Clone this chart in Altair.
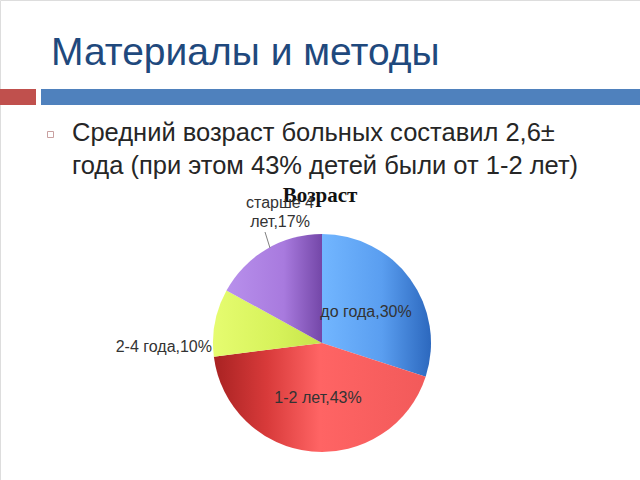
import altair as alt
import pandas as pd

# ---- data ----
categories = ["до года", "1-2 лет", "2-4 года", "старше 4 лет"]
values = [30, 43, 10, 17]
order = [1, 2, 3, 4]

df = pd.DataFrame({"cat": categories, "value": values, "ord": order})

title_text = "Материалы и методы"
line1 = "Средний возраст больных составил 2,6±"
line2 = "года (при этом 43% детей были от 1-2 лет)"
chart_title = "Возраст"

CX, CY, R = 322, 343, 109

def grad(stops):
    return alt.LinearGradient(
        gradient="linear", x1=0, x2=1, y1=0, y2=0,
        stops=[alt.GradientStop(offset=o, color=c) for o, c in stops],
    )

gradients = {
    "до года": grad([(0, "#72B6FF"), (0.55, "#5A9EF0"), (1, "#2C68BE")]),
    "1-2 лет": grad([(0, "#A82222"), (0.25, "#D83A3A"), (0.5, "#FF6464"), (1, "#F25A5A")]),
    "2-4 года": grad([(0, "#E6FC70"), (0.6, "#D6F25A"), (1, "#C6E44A")]),
    "старше 4 лет": grad([(0, "#B890EC"), (0.6, "#A87ADE"), (1, "#7447A8")]),
}

base = alt.Chart(df).transform_stack(
    stack="value", groupby=[], as_=["v0", "v1"],
    sort=[alt.SortField("ord", order="ascending")],
)

theta_scale = alt.Scale(domain=[0, 100])

slices = []
for c in categories:
    slices.append(
        base.transform_filter(alt.datum.cat == c)
        .mark_arc(radius=R, fill=gradients[c], stroke=None)
        .encode(
            theta=alt.Theta("v0:Q", scale=theta_scale),
            theta2="v1:Q",
            x=alt.value(CX), y=alt.value(CY),
        )
    )

blank = alt.Chart(pd.DataFrame({"k": [0]}))

# header bars
bar_red = blank.mark_rect(color="#C0504D").encode(
    x=alt.value(0), x2=alt.value(36), y=alt.value(89), y2=alt.value(105))
bar_blue = blank.mark_rect(color="#4F81BD").encode(
    x=alt.value(41), x2=alt.value(640), y=alt.value(89), y2=alt.value(105))

title = blank.mark_text(
    text=title_text, font="Liberation Sans", fontSize=39, color="#1F497D",
    align="left", baseline="alphabetic",
).encode(x=alt.value(51), y=alt.value(65))

bullet = blank.mark_rect(fill="white", stroke="#C9A0A0", strokeWidth=1).encode(
    x=alt.value(47.5), x2=alt.value(53.5), y=alt.value(131.5), y2=alt.value(137.5))

body_font = dict(font="Liberation Sans", fontSize=25.5, color="#262626",
                 align="left", baseline="alphabetic")
t1 = blank.mark_text(text=line1, **body_font).encode(x=alt.value(72), y=alt.value(141))
t2 = blank.mark_text(text=line2, **body_font).encode(x=alt.value(72), y=alt.value(174))

ctitle = blank.mark_text(
    text=chart_title, font="Liberation Serif", fontSize=21, fontWeight="bold",
    color="#111111", align="center", baseline="alphabetic",
).encode(x=alt.value(320), y=alt.value(202))

lab_font = dict(font="Liberation Sans", fontSize=16, color="#333333", baseline="alphabetic")

lab_df = pd.DataFrame({"cat": categories, "value": values})
lab_base = alt.Chart(lab_df).transform_calculate(
    lbl="datum.cat + ',' + datum.value + '%'")

lab1 = lab_base.transform_filter(alt.datum.cat == categories[0]).mark_text(
    align="center", **lab_font).encode(text="lbl:N", x=alt.value(366), y=alt.value(317))
lab2 = lab_base.transform_filter(alt.datum.cat == categories[1]).mark_text(
    align="center", **lab_font).encode(text="lbl:N", x=alt.value(318), y=alt.value(403))
lab3 = lab_base.transform_filter(alt.datum.cat == categories[2]).mark_text(
    align="right", **lab_font).encode(text="lbl:N", x=alt.value(212), y=alt.value(352))
lab4 = lab_base.transform_filter(alt.datum.cat == categories[3]).transform_calculate(
    lbl4="['старше 4', 'лет,' + datum.value + '%']").mark_text(
    align="center", lineHeight=19, **lab_font).encode(
    text="lbl4:N", x=alt.value(280), y=alt.value(208))

leader = blank.mark_rule(color="#808080", strokeWidth=1).encode(
    x=alt.value(265), x2=alt.value(270), y=alt.value(232), y2=alt.value(248))

chart = alt.layer(
    bar_red, bar_blue, title, bullet, t1, t2,
    *slices, ctitle, leader, lab1, lab2, lab3, lab4,
).properties(
    width=640, height=480,
    autosize=alt.AutoSizeParams(type="none"),
    padding=0,
).configure_view(stroke=None).configure(background="white")

chart.save("out.html", embed_options={"renderer": "svg", "actions": False})
